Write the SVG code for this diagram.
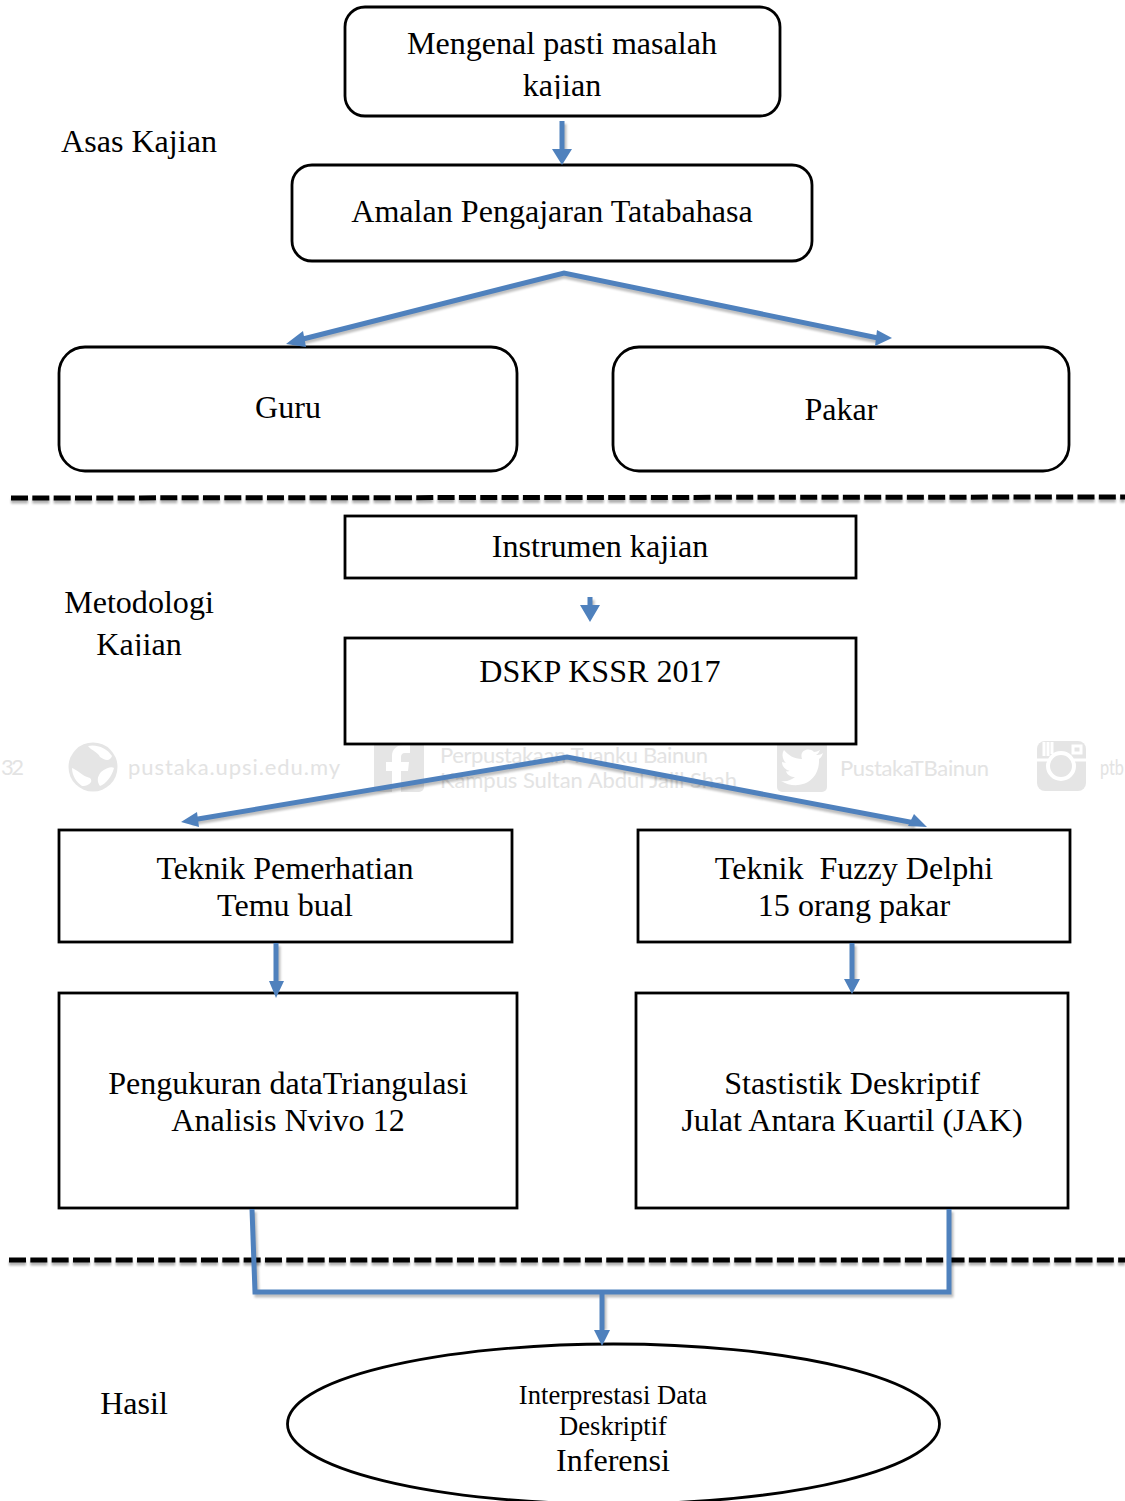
<svg xmlns="http://www.w3.org/2000/svg" width="1125" height="1501" viewBox="0 0 1125 1501">
<style>
text{font-family:"Liberation Serif","Times New Roman",serif;font-size:32.1px;fill:#000;text-anchor:middle}
text.sm{font-size:26.6px}
.box{fill:#fff;stroke:#000;stroke-width:2.8}
.dash{fill:none;stroke:#000;stroke-width:5;stroke-dasharray:17 4.33}
.dashs{fill:none;stroke:#000;stroke-opacity:.3;stroke-width:5;stroke-dasharray:17 4.33;filter:url(#soft)}
.con{fill:none;stroke:#4f81bd;stroke-width:5}
.cons{fill:none;stroke:#000;stroke-opacity:.25;stroke-width:5;filter:url(#soft)}
.head{fill:#4f81bd}
text.wm{font-family:Lato,"Open Sans",sans-serif;font-size:22px;fill:#e3e3e3;text-anchor:start}
.wmi{fill:#e5e5e5}
.wmw{fill:#fff}
.wml{fill:none;stroke:#fff;stroke-width:3}
</style>
<defs>
<clipPath id="c1"><rect x="340" y="20" width="440" height="79"/></clipPath>
<clipPath id="c2"><rect x="50" y="580" width="180" height="76"/></clipPath>
<filter id="soft" filterUnits="userSpaceOnUse" x="0" y="0" width="1125" height="1501"><feGaussianBlur stdDeviation="1.3"/></filter>
</defs>
<rect width="1125" height="1501" fill="#fff"/>
<g id="watermark">
<text class="wm" x="1" y="775" textLength="23">32</text>
<circle class="wmi" cx="93" cy="767" r="24.500"/>
<path class="wmw" d="M88 746C96 744 107 748 112 756C110 762 104 760 100 757C98 752 92 751 88 746ZM72 768C78 770 82 776 90 778C94 782 88 786 82 786C76 782 72 775 72 768ZM101 772C106 768 112 766 114 768C112 776 106 784 100 786C96 780 98 776 101 772Z"/>
<text class="wm" x="128" y="775" textLength="212">pustaka.upsi.edu.my</text>
<rect class="wmi" x="374" y="741" width="50" height="51" rx="5"/>
<path class="wmw" d="M392 792V771H386V762H392V756C392 749 397 745 403 745H410V753H405C402 753 401 755 401 757V762H409L408 771H401V792Z"/>
<text class="wm" x="440" y="763" textLength="268">Perpustakaan Tuanku Bainun</text>
<text class="wm" x="440" y="788" textLength="297">Kampus Sultan Abdul Jalil Shah</text>
<rect class="wmi" x="777" y="741" width="50" height="51" rx="5"/>
<path class="wmw" d="M823 753C820 755 818 755 816 755C818 754 819 752 820 750C818 751 816 752 814 752C809 747 799 750 802 759C794 759 788 755 784 750C781 755 783 760 786 763C785 763 783 762 782 762C782 767 786 770 790 771C789 771 787 772 786 771C787 775 791 777 795 777C791 780 787 782 781 781C797 791 820 783 819 759C821 758 822 756 823 753Z"/>
<text class="wm" x="840" y="776" textLength="149">PustakaTBainun</text>
<rect class="wmi" x="1037" y="741" width="49" height="50" rx="8"/>
<circle cx="1061" cy="766" r="13" fill="none" stroke="#fff" stroke-width="4"/>
<rect class="wml" x="1073" y="746" width="8" height="7" stroke-width="2"/>
<path class="wml" d="M1044 742V756M1048 742V756M1052 742V754" stroke-width="1.500"/>
<path class="wml" d="M1037 760H1048M1074 760H1086" stroke-width="2"/>
<text class="wm" x="1100" y="775" textLength="24" lengthAdjust="spacingAndGlyphs">ptb</text>
</g>
<g id="separators">
<path class="dashs" d="M11 501 L1125 500"/>
<path class="dash" d="M11 498 L1125 497"/>
<path class="dashs" d="M9 1263 L1125 1263"/>
<path class="dash" d="M9 1260 L1125 1260"/>
</g>
<g id="n1"><rect class="box" x="345" y="7" width="435" height="109" rx="20"/>
<g clip-path="url(#c1)"><text x="562" y="54">Mengenal pasti masalah</text><text x="562" y="96">kajian</text></g></g>
<g id="n2"><rect class="box" x="292" y="165" width="520" height="96" rx="20"/><text x="552" y="222">Amalan Pengajaran Tatabahasa</text></g>
<g id="n3"><rect class="box" x="59" y="347" width="458" height="124" rx="26"/><text x="288" y="418">Guru</text></g>
<g id="n4"><rect class="box" x="613" y="347" width="456" height="124" rx="26"/><text x="841" y="420">Pakar</text></g>
<g id="n5"><rect class="box" x="345" y="516" width="511" height="62"/><text x="600" y="557">Instrumen kajian</text></g>
<g id="n6"><rect class="box" x="345" y="638" width="511" height="106"/><text x="600" y="682">DSKP KSSR 2017</text></g>
<g id="n7"><rect class="box" x="59" y="830" width="453" height="112"/><text x="285" y="879">Teknik Pemerhatian</text><text x="285" y="916">Temu bual</text></g>
<g id="n8"><rect class="box" x="638" y="830" width="432" height="112"/><text x="854" y="879" xml:space="preserve">Teknik  Fuzzy Delphi</text><text x="854" y="916">15 orang pakar</text></g>
<g id="n9"><rect class="box" x="59" y="993" width="458" height="215"/><text x="288" y="1094">Pengukuran dataTriangulasi</text><text x="288" y="1131">Analisis Nvivo 12</text></g>
<g id="n10"><rect class="box" x="636" y="993" width="432" height="215"/><text x="852" y="1094">Stastistik Deskriptif</text><text x="852" y="1131">Julat Antara Kuartil (JAK)</text></g>
<g id="n11"><ellipse class="box" cx="613.500" cy="1424" rx="326" ry="80"/><text class="sm" x="613" y="1404">Interprestasi Data</text><text class="sm" x="613" y="1435">Deskriptif</text><text x="613" y="1471">Inferensi</text></g>
<g id="labels">
<text x="139" y="152">Asas Kajian</text>
<g clip-path="url(#c2)"><text x="139" y="613">Metodologi</text><text x="139" y="655">Kajian</text></g>
<text x="134" y="1414">Hasil</text>
</g>
<g id="connectors">
<path class="cons" d="M564 124V152M299 343L564 276L878 341M592 600V610M192 823L567 760L915 826M278 946V982M854 946V982M254 1212L257 1295H951V1212M604 1295V1330"/>
<path class="con" d="M562 121V150M299 340L564 273L878 338M590 597V607M192 820L567 757L915 823M276 943V982M852 943V982M252 1209L255 1292H949L949 1209M602 1292V1330"/>
<path class="head" d="M552 149H572L562 165ZM286 344L303 331L306 347ZM892 338L875 346L877 330ZM580 605H600L590 622ZM181 822L197 812L199 827ZM927 827L908 826L914 814ZM269 981H284L276 998ZM844 979H860L852 994ZM594 1330H610L602 1346Z"/>
</g>
</svg>
